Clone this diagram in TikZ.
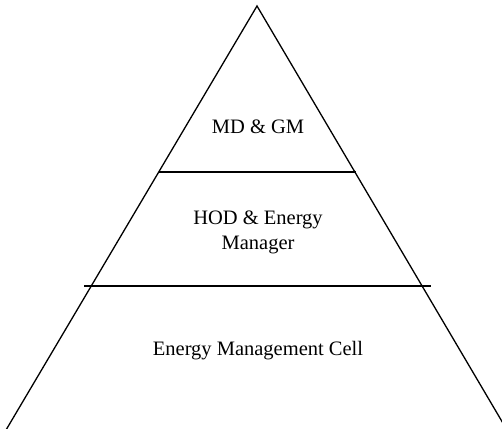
\documentclass[tikz,border=0pt]{standalone}
\usepackage{fontspec}
\setmainfont{Liberation Serif}
\begin{document}
\begin{tikzpicture}[x=1pt,y=-1pt,
  edge/.style={line width=1.3pt, black},
  lbl/.style={font=\fontsize{20.5}{25}\selectfont, align=center, inner sep=0pt}]
\useasboundingbox (0,0) rectangle (502,428);
\coordinate (apex) at (257,6);
\coordinate (bl) at (6,430);
\coordinate (br) at (507,430);
\coordinate (l1a) at (159,172);
\coordinate (l1b) at (356,172);
\coordinate (l2a) at (84,286);
\coordinate (l2b) at (431,286);
\draw[edge] (bl) -- (apex) -- (br);
\draw[edge] (l1a) -- (l1b);
\draw[edge] (l2a) -- (l2b);
\node[lbl] (top) at (258,127) {MD \& GM};
\node[lbl] (mid) at (258,232) {HOD \& Energy\\Manager};
\node[lbl] (bot) at (258,351) {Energy Management Cell};
\end{tikzpicture}
\end{document}
